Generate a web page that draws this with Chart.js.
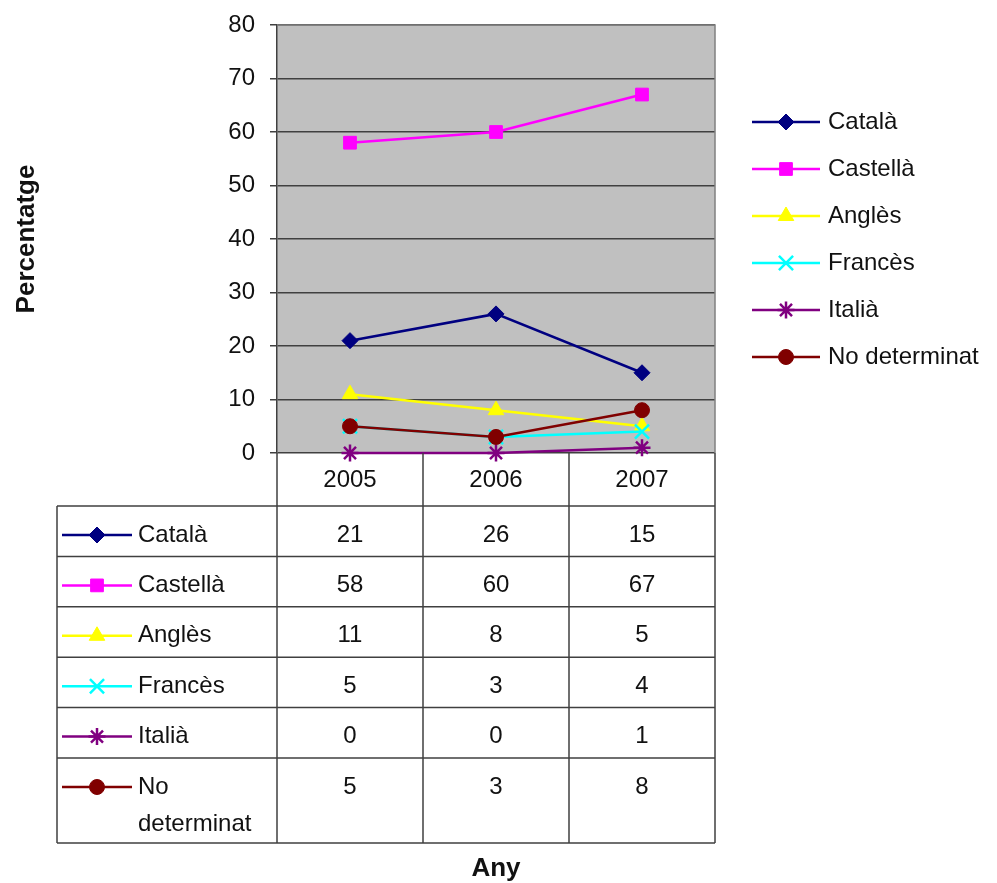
<!DOCTYPE html>
<html>
<head>
    <title>Percentatge per any</title>
    <script src="https://cdn.jsdelivr.net/npm/chart.js"></script>
    <style>
        body { margin: 0; background: #fff; }
    </style>
</head>
<body>
    <div style="width: 997px; height: 883px; position: relative;">
        <canvas id="myChart"></canvas>
    </div>
    <script>
        // data
        const years = ['2005', '2006', '2007'];
        const catala = [21, 26, 15];
        const castella = [58, 60, 67];
        const angles = [11, 8, 5];
        const frances = [5, 3, 4];
        const italia = [0, 0, 1];
        const noDeterminat = [5, 3, 8];
        const seriesNames = ['Català', 'Castellà', 'Anglès', 'Francès', 'Italià', 'No determinat'];
        const seriesValues = [catala, castella, angles, frances, italia, noDeterminat];

        // excel-ish styles per series
        const colors = ['#000080', '#FF00FF', '#FFFF00', '#00FFFF', '#800080', '#800000'];
        const markers = ['rectRot', 'rect', 'triangle', 'crossRot', 'star', 'circle'];
        const markerSize = [8, 9, 9, 10, 8.5, 7.5];

        const FONT = "'Liberation Sans', Arial, sans-serif";

        const datasets = seriesNames.map((name, i) => ({
            label: name,
            data: seriesValues[i],
            borderColor: colors[i],
            backgroundColor: colors[i],
            borderWidth: 2.5,
            pointStyle: markers[i],
            pointRadius: markerSize[i],
            pointBackgroundColor: colors[i],
            pointBorderColor: colors[i],
            pointBorderWidth: (markers[i] === 'crossRot' || markers[i] === 'star') ? 2.5 : 1,
            clip: false,
            order: seriesNames.length - i   // later series on top, like excel
        }));

        // line + marker sample, used by the legend and the table
        function drawSample(ctx, ds, cx, cy, halfLen, radius) {
            ctx.save();
            ctx.strokeStyle = ds.borderColor;
            ctx.lineWidth = 2.5;
            ctx.beginPath();
            ctx.moveTo(cx - halfLen, cy);
            ctx.lineTo(cx + halfLen, cy);
            ctx.stroke();
            ctx.fillStyle = ds.pointBackgroundColor;
            ctx.strokeStyle = ds.pointBorderColor;
            ctx.lineWidth = ds.pointBorderWidth;
            Chart.helpers.drawPoint(ctx, {
                pointStyle: ds.pointStyle, radius: radius, rotation: 0, borderWidth: ds.pointBorderWidth
            }, cx, cy);
            ctx.restore();
        }

        const excelPlugin = {
            id: 'excelLook',
            beforeDraw(chart) {
                const a = chart.chartArea;
                const ctx = chart.ctx;
                ctx.save();
                ctx.fillStyle = '#C0C0C0';
                ctx.fillRect(a.left, a.top, a.right - a.left, a.bottom - a.top);
                ctx.restore();
            },
            afterDraw(chart) {
                const ctx = chart.ctx;
                const a = chart.chartArea;
                const x = chart.scales.x;
                const metas = chart.data.datasets;

                // plot frame (top / right)
                ctx.save();
                ctx.strokeStyle = '#808080';
                ctx.lineWidth = 1.5;
                ctx.beginPath();
                ctx.moveTo(a.left, a.top);
                ctx.lineTo(a.right, a.top);
                ctx.lineTo(a.right, a.bottom);
                ctx.stroke();
                ctx.restore();

                // data table under the plot
                const colW = (a.right - a.left) / years.length;
                const headerBottom = a.bottom + 53;
                const rowH = 50.4;
                const tableLeft = 57;
                const rowTops = seriesNames.map((_, i) => headerBottom + i * rowH);
                const tableBottom = 843;

                ctx.save();
                ctx.strokeStyle = '#404040';
                ctx.lineWidth = 1.5;
                ctx.beginPath();
                for (let k = 0; k <= years.length; k++) {
                    const xx = a.left + k * colW;
                    ctx.moveTo(xx, a.bottom);
                    ctx.lineTo(xx, tableBottom);
                }
                ctx.moveTo(tableLeft, headerBottom);
                ctx.lineTo(tableLeft, tableBottom);
                rowTops.concat([tableBottom]).forEach(yy => {
                    ctx.moveTo(tableLeft, yy);
                    ctx.lineTo(a.right, yy);
                });
                ctx.stroke();

                ctx.fillStyle = '#111';
                ctx.font = '24px ' + FONT;
                ctx.textBaseline = 'middle';
                metas.forEach((ds, i) => {
                    const ty = rowTops[i] + 29;
                    drawSample(ctx, ds, 97, ty, 35, ds.pointRadius);
                    ctx.fillStyle = '#111';
                    ctx.textAlign = 'left';
                    // wrap long names like excel does in the narrow cell
                    const words = ds.label.split(' ');
                    if (ctx.measureText(ds.label).width > 110 && words.length > 1) {
                        words.forEach((w, j) => ctx.fillText(w, 138, ty + j * 37));
                    } else {
                        ctx.fillText(ds.label, 138, ty);
                    }
                    ctx.textAlign = 'center';
                    ds.data.forEach((v, j) => {
                        ctx.fillText(String(v), x.getPixelForValue(j), ty);
                    });
                });

                // legend on the right
                ctx.textAlign = 'left';
                metas.forEach((ds, i) => {
                    const ly = 122 + i * 47;
                    drawSample(ctx, ds, 786, ly, 34, ds.pointRadius);
                    ctx.fillStyle = '#111';
                    ctx.fillText(ds.label, 828, ly);
                });
                ctx.restore();
            }
        };

        var ctx = document.getElementById('myChart').getContext('2d');
        var myChart = new Chart(ctx, {
            type: 'line',
            data: {
                labels: years,
                datasets: datasets
            },
            options: {
                responsive: true,
                maintainAspectRatio: false,
                animation: false,
                layout: { padding: { left: 0, top: 25, right: 282, bottom: 1 } },
                plugins: {
                    legend: { display: false },
                    tooltip: { enabled: false }
                },
                elements: { line: { tension: 0 } },
                scales: {
                    x: {
                        offset: true,
                        grid: { display: false },
                        border: { display: false },
                        ticks: { color: '#111', font: { family: FONT, size: 24 }, padding: 5, maxRotation: 0 },
                        title: {
                            display: true, text: 'Any', color: '#111',
                            font: { family: FONT, size: 26, weight: 'bold', lineHeight: 1 },
                            padding: { top: 0, bottom: 0 }
                        },
                        afterFit(s) { s.height = 429; }
                    },
                    y: {
                        min: 0,
                        max: 80,
                        ticks: { stepSize: 10, color: '#111', font: { family: FONT, size: 24 }, padding: 15 },
                        grid: { color: '#404040', lineWidth: 1.5, tickLength: 7 },
                        border: { color: '#404040', width: 1.5 },
                        title: {
                            display: true, text: 'Percentatge', color: '#111',
                            font: { family: FONT, size: 26, weight: 'bold' },
                            padding: { top: 11, bottom: 0 }
                        },
                        afterFit(s) {
                            s.width = 277;
                            // let the layout padding alone decide where the plot starts
                            s.paddingTop = 0;
                            s.paddingBottom = 0;
                        }
                    }
                }
            },
            plugins: [excelPlugin]
        });
    </script>
</body>
</html>
